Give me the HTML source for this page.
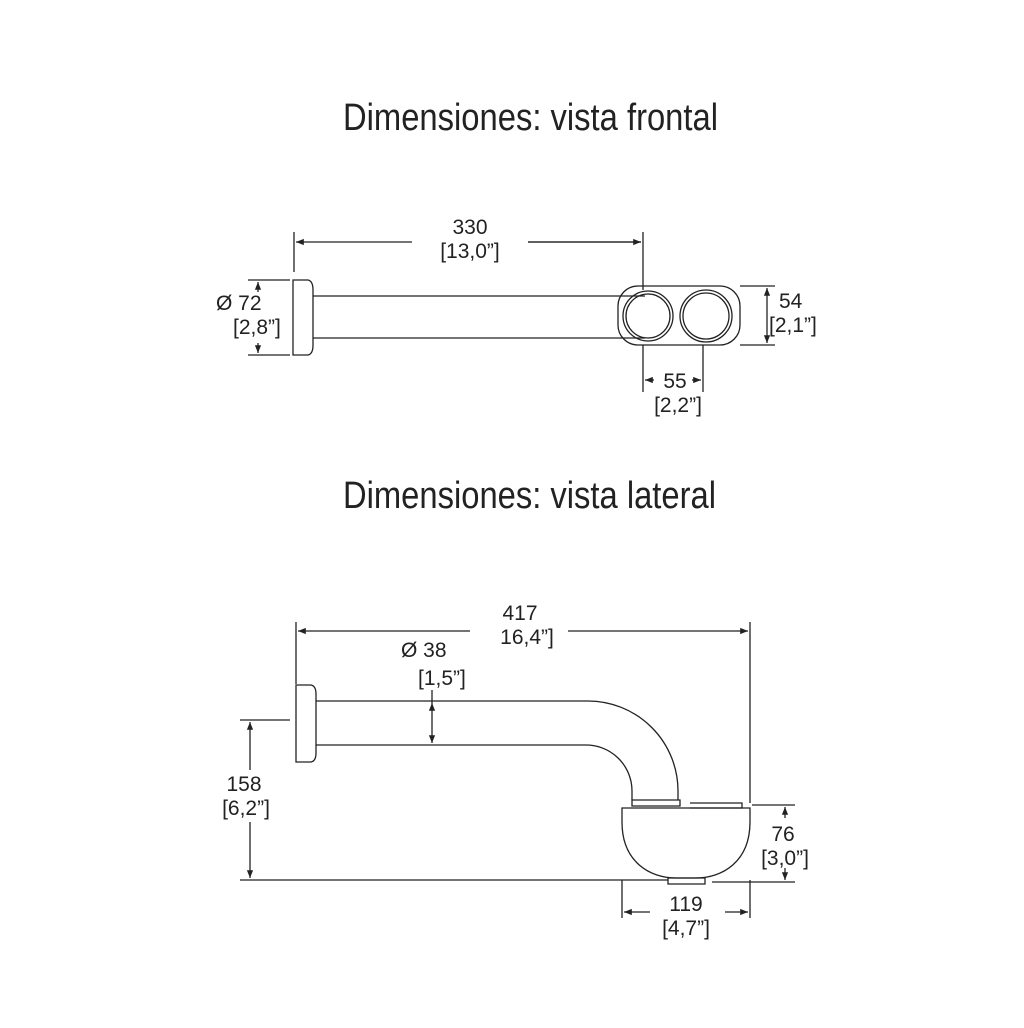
<!DOCTYPE html>
<html><head><style>body{margin:0;background:#fff}svg{display:block}</style></head><body>
<svg width="1024" height="1028" viewBox="0 0 1024 1028" xmlns="http://www.w3.org/2000/svg" font-family="Liberation Sans, sans-serif" fill="none" stroke="#222" stroke-width="1.3">
<defs><marker id="a" viewBox="0 0 10 10" refX="10" refY="5" markerWidth="9" markerHeight="6" orient="auto-start-reverse"><path d="M0,1 L10,5 L0,9z" fill="#222" stroke="none"/></marker></defs>
<g fill="#222" stroke="none">
<text x="343" y="130" font-size="38" textLength="375" lengthAdjust="spacingAndGlyphs">Dimensiones: vista frontal</text>
<text x="343" y="508" font-size="38" textLength="373" lengthAdjust="spacingAndGlyphs">Dimensiones: vista lateral</text>
<g font-size="21">
<text x="470" y="234" text-anchor="middle">330</text>
<text x="470" y="258" text-anchor="middle">[13,0”]</text>
<text x="216" y="310">Ø 72</text>
<text x="233" y="334">[2,8”]</text>
<text x="779" y="308">54</text>
<text x="769" y="332">[2,1”]</text>
<text x="675" y="388" text-anchor="middle">55</text>
<text x="678" y="412" text-anchor="middle">[2,2”]</text>
<text x="520" y="620" text-anchor="middle">417</text>
<text x="527" y="644" text-anchor="middle">16,4”]</text>
<text x="401" y="657">Ø 38</text>
<text x="418" y="685">[1,5”]</text>
<text x="244" y="791" text-anchor="middle">158</text>
<text x="246" y="815" text-anchor="middle">[6,2”]</text>
<text x="783" y="841" text-anchor="middle">76</text>
<text x="785" y="865" text-anchor="middle">[3,0”]</text>
<text x="686" y="911" text-anchor="middle">119</text>
<text x="686" y="935" text-anchor="middle">[4,7”]</text>
</g></g>
<!-- front view -->
<path d="M293,280 H308 Q313,281 313,290 V345 Q313,354 308,355 H293 Z"/>
<rect x="618" y="286" width="122" height="59" rx="20" fill="#fff"/>
<circle cx="648" cy="316" r="25" fill="#fff"/>
<path d="M313,296 H645 M313,338 H645"/>
<circle cx="648" cy="316" r="22"/>
<circle cx="706" cy="316" r="26"/><circle cx="706" cy="316" r="23"/>
<path d="M294,232 V272 M643,232 V290"/>
<path d="M296,242 H412 M528,242 H641" marker-start="url(#a)"/>
<path d="M528,242 H641" marker-end="url(#a)"/>
<path d="M248,280 H290 M248,355 H290"/>
<path d="M258,292 V282" marker-end="url(#a)"/><path d="M258,343 V353" marker-end="url(#a)"/>
<path d="M740,286 H775 M740,345 H775"/>
<path d="M767,288 V343" marker-start="url(#a)" marker-end="url(#a)"/>
<path d="M643,345 V392 M703,345 V392"/>
<path d="M645,380 H654" marker-start="url(#a)"/><path d="M692,380 H701" marker-end="url(#a)"/>
<!-- lateral view -->
<path d="M296,685 H311 Q316,686 316,694 V753 Q316,761 311,762 H296 Z"/>
<path d="M316,701 H588 A90,90 0 0 1 678,791 V800 M316,745 H585 A46,46 0 0 1 632,791 V800"/>
<path d="M632,800 H680 V806 H632 Z"/>
<path d="M690,803 H742 V808 H690"/>
<path d="M622,808 H750 V822 C750,862 722,878 696,878 H676 C650,878 622,862 622,822 Z"/>
<path d="M668,878 H705 V884 H668 Z"/>
<path d="M240,880 H668"/>
<path d="M240,720 H290"/>
<path d="M250,770 V722" marker-end="url(#a)"/><path d="M250,822 V878" marker-end="url(#a)"/>
<path d="M296,622 V684 M750,622 V803"/>
<path d="M298,631 H470" marker-start="url(#a)"/>
<path d="M568,631 H748" marker-end="url(#a)"/>
<path d="M432,703 V743" marker-start="url(#a)" marker-end="url(#a)"/>
<path d="M432,690 V703"/>
<path d="M752,805 H795 M712,882 H795"/>
<path d="M785,818 V807" marker-end="url(#a)"/><path d="M785,868 V880" marker-end="url(#a)"/>
<path d="M622,880 V918 M750,880 V918"/>
<path d="M650,912 H624" marker-end="url(#a)"/><path d="M725,912 H748" marker-end="url(#a)"/>
</svg>
</body></html>
